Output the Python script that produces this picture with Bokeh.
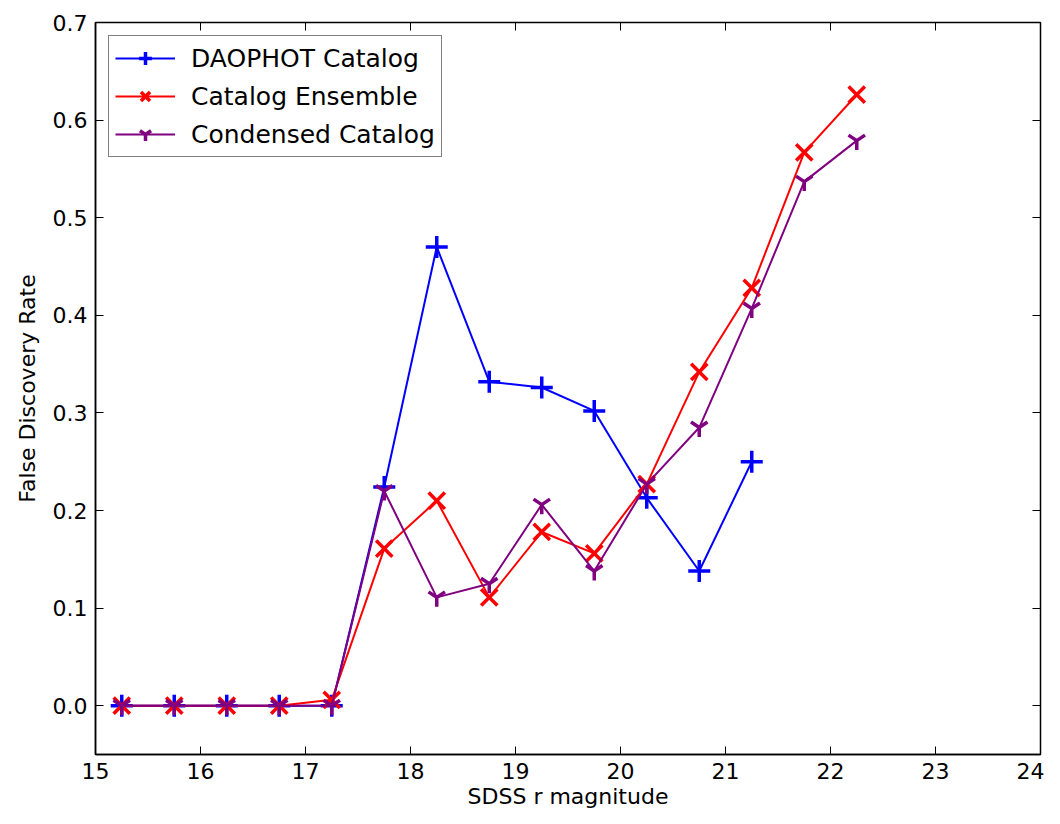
from bokeh.plotting import figure
from bokeh.models import LinearAxis, FixedTicker, Range1d, PrintfTickFormatter, CustomJSTickFormatter
from bokeh.embed import file_html
from bokeh.resources import INLINE

mag = [15.25, 15.75, 16.25, 16.75, 17.25, 17.75, 18.25, 18.75, 19.25, 19.75, 20.25, 20.75, 21.25, 21.75, 22.25]
daophot = [0.0, 0.0, 0.0, 0.0, 0.0, 0.224, 0.470, 0.332, 0.326, 0.302, 0.213, 0.138, 0.250]
ensemble = [0.0, 0.0, 0.0, 0.0, 0.006, 0.161, 0.210, 0.111, 0.178, 0.156, 0.227, 0.342, 0.428, 0.567, 0.626]
condensed = [0.0, 0.0, 0.0, 0.0, 0.0, 0.220, 0.111, 0.125, 0.206, 0.138, 0.227, 0.285, 0.407, 0.537, 0.579]
xticks = list(range(15, 25))
yticks = [0.0, 0.1, 0.2, 0.3, 0.4, 0.5, 0.6, 0.7]

FONT = "DejaVu Sans"

p = figure(width=1044, height=816, output_backend="svg", toolbar_location=None,
           x_range=Range1d(15, 24), y_range=Range1d(-0.05, 0.7),
           min_border_left=95, min_border_right=4, min_border_top=22, min_border_bottom=62)
p.grid.visible = False
p.outline_line_color = "black"
p.outline_line_width = 1.5

for ax in (p.xaxis[0], p.yaxis[0]):
    ax.major_tick_in = 8
    ax.major_tick_out = 0
    ax.minor_tick_line_color = None
    ax.major_label_text_font = FONT
    ax.major_label_text_font_size = "22px"
    ax.major_label_text_color = "black"
    ax.axis_label_text_font = FONT
    ax.axis_label_text_font_size = "22px"
    ax.axis_label_text_font_style = "normal"
    ax.axis_label_text_color = "black"
    ax.axis_line_width = 1.5
p.xaxis.ticker = FixedTicker(ticks=xticks)
p.yaxis.ticker = FixedTicker(ticks=yticks)
p.yaxis.formatter = PrintfTickFormatter(format="%.1f")
p.xaxis.axis_label = "SDSS r magnitude"
p.yaxis.axis_label = "False Discovery Rate"
p.xaxis.major_label_standoff = 8
p.yaxis.major_label_standoff = 8
p.xaxis.axis_label_standoff = 2
p.yaxis.axis_label_standoff = 10

top = LinearAxis(ticker=FixedTicker(ticks=xticks), formatter=CustomJSTickFormatter(code="return ''"),
                 major_tick_in=8, major_tick_out=0, minor_tick_line_color=None, axis_line_color=None)
right = LinearAxis(ticker=FixedTicker(ticks=yticks), formatter=CustomJSTickFormatter(code="return ''"),
                   major_tick_in=8, major_tick_out=0, minor_tick_line_color=None, axis_line_color=None)
p.add_layout(top, "above")
p.add_layout(right, "right")

series = [
    (daophot, "blue", "cross", 22, "DAOPHOT Catalog"),
    (ensemble, "red", "x", 23, "Catalog Ensemble"),
    (condensed, "purple", "y", 19, "Condensed Catalog"),
]
for vals, col, mk, sz, lab in series:
    xs = mag[:len(vals)]
    p.line(xs, vals, line_color=col, line_width=2, legend_label=lab)
    p.scatter(xs, vals, marker=mk, size=sz, line_color=col, line_width=3.5, fill_color=col,
              legend_label=lab)

lg = p.legend[0]
lg.location = "top_left"
lg.margin = 13
lg.border_line_color = "black"
lg.border_line_width = 1.5
lg.label_text_font = FONT
lg.label_text_font_size = "25px"
lg.label_text_color = "black"
lg.glyph_width = 60
lg.glyph_height = 32
lg.label_standoff = 16
lg.spacing = 6
lg.padding = 6

open("out.html", "w").write(file_html(p, INLINE))
